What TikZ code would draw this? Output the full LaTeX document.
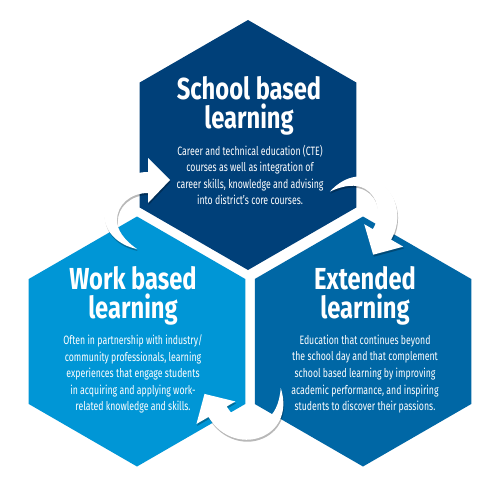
\documentclass[tikz,border=0pt]{standalone}
\usepackage{fontspec}
\setmainfont{Fira Sans}
\newfontfamily\titlefont[FakeStretch=0.78]{Fira Sans}
\newfontfamily\bodyfont[FakeStretch=0.72]{Fira Sans}
\usetikzlibrary{shadows}
\definecolor{navy}{HTML}{004079}
\definecolor{lightblue}{HTML}{0096D6}
\definecolor{midblue}{HTML}{0067A5}
\tikzset{
  titletext/.style={text=white, align=center, font=\titlefont\bfseries\fontsize{17.3}{16.5}\selectfont},
  bodytext/.style={text=white, align=center, font=\bodyfont\fontsize{6.9}{9.45}\selectfont},
  cyclearrow/.style={fill=white, drop shadow={shadow xshift=0.4pt, shadow yshift=-1.1pt, opacity=0.28, fill=black}},
}
\newcommand{\hexpath}[1]{(#1) +(30:125) -- +(90:125) -- +(150:125) -- +(210:125) -- +(270:125) -- +(330:125) -- cycle}
\newcommand{\cyclepath}{(148,172) .. controls (124,172) and (104,190) .. (104,213)
  .. controls (104,232) and (118,245) .. (137,249)
  .. controls (124,240) and (117,230) .. (117,220)
  .. controls (117,205) and (130,193) .. (148,193)
  -- (148,203) -- (170,180) -- (148,158) -- cycle}
\begin{document}
\begin{tikzpicture}[x=0.02cm, y=-0.02cm]
\useasboundingbox (0,0) rectangle (500,500);
\fill[white] (0,0) rectangle (500,500);
\coordinate (school) at (248,145);
\coordinate (work) at (137,341.5);
\coordinate (extended) at (363,341.5);
\fill[navy] \hexpath{school};
\fill[lightblue] \hexpath{work};
\fill[midblue] \hexpath{extended};
\fill[cyclearrow] \cyclepath;
\begin{scope}[rotate around={-120:(250,276)}]
\fill[cyclearrow] \cyclepath;
\end{scope}
\begin{scope}[rotate around={-240:(249,277)}]
\fill[cyclearrow] \cyclepath;
\end{scope}
\node[titletext] (schooltitle) at (249,106) {School based\\learning};
\node[bodytext] (schoolbody) at (250,175) {Career and technical education (CTE)\\courses as well as integration of\\career skills, knowledge and advising\\into district’s core courses.};
\node[titletext] (worktitle) at (133,296) {Work based\\learning};
\node[bodytext] (workbody) at (133,374) {Often in partnership with industry/\\community professionals, learning\\experiences that engage students\\in acquiring and applying work-\\related knowledge and skills.};
\node[titletext] (exttitle) at (365,296) {Extended\\learning};
\node[bodytext] (extbody) at (365,374) {Education that continues beyond\\the school day and that complement\\school based learning by improving\\academic performance, and inspiring\\students to discover their passions.};
\end{tikzpicture}
\end{document}
